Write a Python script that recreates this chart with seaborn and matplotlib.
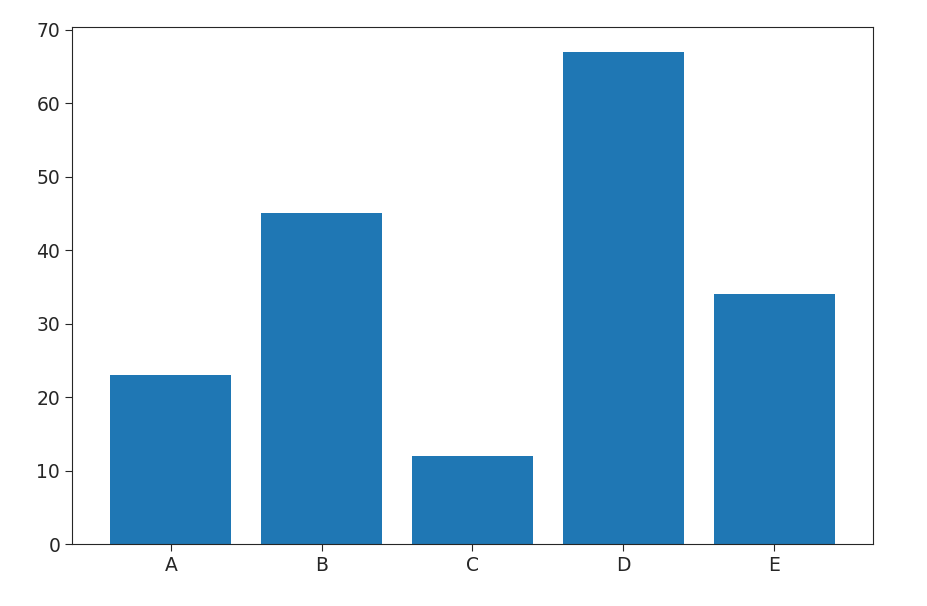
import matplotlib
matplotlib.use("Agg")
import matplotlib.pyplot as plt
import seaborn as sns
import pandas as pd

categories = ["A", "B", "C", "D", "E"]
values = [23, 45, 12, 67, 34]

df = pd.DataFrame({"category": categories, "value": values})

fig = plt.figure(figsize=(9.28, 6.06), dpi=100)
ax = fig.add_axes([72/928, 1-544/606, (873-72)/928, (544-27)/606])
sns.barplot(data=df, x="category", y="value", color="#1f77b4", saturation=1,
            width=0.8, ax=ax, errorbar=None)
ax.set_xlabel("")
ax.set_ylabel("")
ax.set_xlim(-0.655, 4.655)
ax.set_ylim(0, 70.35)
ax.set_yticks(range(0, 71, 10))
ax.tick_params(labelsize=13.5, colors="#262626", length=5)
for s in ax.spines.values():
    s.set_color("#262626")
fig.savefig("out.png", dpi=100)
